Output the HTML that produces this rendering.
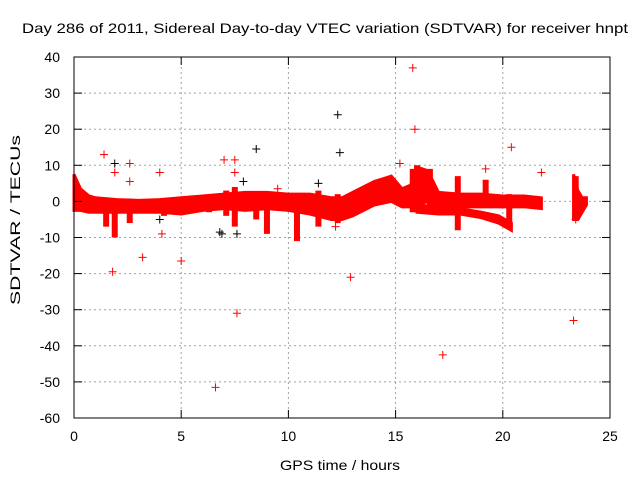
<!DOCTYPE html>
<html><head><meta charset="utf-8"><style>
body{margin:0;background:#fff}
svg{display:block;font-family:"Liberation Sans",sans-serif}
</style></head><body>
<svg id="chart" width="640" height="480">
<text x="22" y="33" font-size="14" textLength="606" lengthAdjust="spacingAndGlyphs">Day 286 of 2011, Sidereal Day-to-day VTEC variation (SDTVAR) for receiver hnpt</text>
<text x="280" y="470" font-size="14" textLength="120" lengthAdjust="spacingAndGlyphs">GPS time / hours</text>
<text x="20" y="305" font-size="14" textLength="170" lengthAdjust="spacingAndGlyphs" transform="rotate(-90 20 305)">SDTVAR / TECUs</text>
<g id="grid"></g><g id="data"></g>
<rect x="74" y="57" width="536" height="361" fill="none" stroke="#000"/>
<g id="axes"></g>
</svg>
<script>
const xTicks=[0,5,10,15,20,25];
const yTicks=[40,30,20,10,0,-10,-20,-30,-40,-50,-60];
const bandHours=[0,0.15,0.3,0.7,1,2,3,4,5,6,7,8,9,10,11,12,12.5,13,14,14.8,15.3,15.7,16,16.5,17,18,19,20,21,21.8];
const bandTop=[7.5,5.5,3.5,1.5,1,0.5,0.3,0.5,1,1.5,2,2.5,2.5,2,2,1,1,2.5,5.5,7,3.5,4.5,9.5,8.5,2.5,2,2,1.5,1.5,1];
const bandBottom=[-2.5,-2.5,-2.5,-3,-3,-3,-3,-3,-3.5,-2.5,-2,-2.5,-2,-2.5,-3.5,-5,-5,-4,-1,0,-1.5,-1.5,-1,0,-1,-1.5,-1.5,-1.5,-1.5,-2];
const branchHours=[16,17,18,19,19.8,20.4];
const branchTop=[-1,-1.5,-2,-3,-4,-6];
const branchBottom=[-3,-3.5,-3.5,-4.5,-6,-8];
const lateHours=[23.3,23.5,23.7,23.9];
const lateTop=[7.5,3,1,1];
const lateBottom=[-5,-5,-3,-1];
const spikeHours=[1.5,1.9,2.6,4.2,4.5,6.3,7.1,7.5,8.5,9.0,10.4,11.4,12.3,15.8,16.0,16.6,17.9,19.2,20.3,23.4];
const spikeLow=[-7,-10,-6,-4,-3,-3,-4,-7,-5,-9,-11,-7,-6,-3,-3,-3,-8,-1,-7,-5];
const spikeHigh=[0,0,0,0,1,1,3,4,2,1,2,3,2,9,10,9,7,6,2,7];
const ptX=[1.4,1.9,1.9,2.6,2.6,1.8,3.2,4.0,4.1,5.0,6.6,6.9,7.0,7.5,7.6,7.6,7.9,8.5,9.5,11.4,12.3,12.4,12.9,15.2,15.8,15.9,19.2,20.4,21.8,23.3,23.4,17.2,12.2,7.5,6.8,4.0];
const ptY=[13,10.5,8,10.5,5.5,-19.5,-15.5,8,-9,-16.5,-51.5,-9,11.5,11.5,-31,-9,5.5,14.5,3.5,5,24,13.5,-21,10.5,37,20,9,15,8,-33,-5,-42.5,-7,8,-8.5,-5];
const ptBlack=[0,1,0,0,0,0,0,0,0,0,0,1,0,0,0,1,1,1,0,1,1,1,0,0,0,0,0,0,0,0,0,0,0,0,1,1];
const NS='http://www.w3.org/2000/svg';
const X=h=>74+h*536/25, Y=v=>57+(40-v)*361/100;
function mk(t,a,p){const e=document.createElementNS(NS,t);for(const k in a)e.setAttribute(k,a[k]);p.appendChild(e);return e;}
const grid=document.getElementById('grid'),axes=document.getElementById('axes'),data=document.getElementById('data');
xTicks.forEach(t=>{const x=X(t);
 if(t>0&&t<25){const g=mk('line',{x1:x,y1:57,x2:x,y2:418,stroke:'#a0a0a0','stroke-dasharray':'2,3'},grid);
 
 }
 mk('line',{x1:x,y1:418,x2:x,y2:410,stroke:'#000'},axes);mk('line',{x1:x,y1:57,x2:x,y2:65,stroke:'#000'},axes);
 const l=mk('text',{x:x,y:441,'font-size':14,'text-anchor':'middle'},axes);l.textContent=t;
 
 });
yTicks.forEach(t=>{const y=Y(t);
 if(t<40&&t>-60){const g=mk('line',{x1:74,y1:y,x2:610,y2:y,stroke:'#a0a0a0','stroke-dasharray':'2,3'},grid);
 
 }
 mk('line',{x1:74,y1:y,x2:82,y2:y,stroke:'#000'},axes);mk('line',{x1:610,y1:y,x2:602,y2:y,stroke:'#000'},axes);
 const l=mk('text',{x:60,y:y+5,'font-size':14,'text-anchor':'end'},axes);l.textContent=t;
 
 });
function band(hs,top,bot,name){let p=hs.map((h,i)=>X(h)+','+Y(top[i]));for(let i=hs.length-1;i>=0;i--)p.push(X(hs[i])+','+Y(bot[i]));
 const e=mk('polygon',{points:p.join(' '),fill:'#f00',stroke:'#f00','stroke-width':3},data);
 
 }
band(bandHours,bandTop,bandBottom,'main-band');
band(branchHours,branchTop,branchBottom,'lower-branch-band');
band(lateHours,lateTop,lateBottom,'late-band');
spikeHours.forEach((h,i)=>{const e=mk('line',{x1:X(h),x2:X(h),y1:Y(spikeLow[i]),y2:Y(spikeHigh[i]),stroke:'#f00','stroke-width':6},data);
 
 });
ptX.forEach((h,i)=>{const x=X(h),y=Y(ptY[i]),c=ptBlack[i]?'#000':'#f00';
 const g=mk('path',{d:`M${x-4},${y}H${x+4}M${x},${y-4}V${y+4}`,stroke:c,'stroke-width':1},data);
 
 });
</script>
</body></html>
